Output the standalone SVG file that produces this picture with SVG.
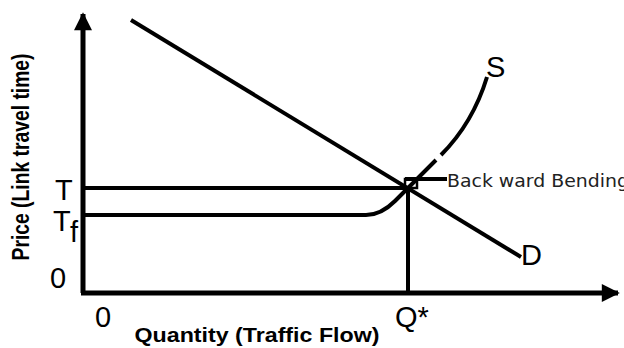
<svg xmlns="http://www.w3.org/2000/svg" width="624" height="348" viewBox="0 0 624 348">
<style>
.ln{fill:none;stroke:#000;stroke-width:4;stroke-linecap:butt}
.ax{fill:none;stroke:#000;stroke-width:5}
.lb{font-family:"Liberation Sans",Arial,sans-serif;font-size:29px;fill:#000}
.tt{font-family:"Liberation Sans",Arial,sans-serif;font-weight:bold;fill:#000}
.hw{font-family:"DejaVu Sans",sans-serif;font-size:17px;fill:#222;font-stretch:condensed}
</style>
<defs>
<marker id="ah" viewBox="0 0 10 10" refX="9" refY="5" markerWidth="4" markerHeight="3.6" orient="auto" markerUnits="strokeWidth">
<path d="M0,0 L10,5 L0,10 z" fill="#000"/>
</marker>
</defs>
<rect width="624" height="348" fill="#fff"/>
<g id="axes">
<path class="ax" d="M83,293 L83,14" marker-end="url(#ah)"/>
<path class="ax" d="M81,293 L618,293" marker-end="url(#ah)"/>
</g>
<g id="connectors">
<path class="ln" d="M83,188 L408,188"/>
<path class="ln" d="M408,187 L408,293"/>
<path class="ln" stroke-width="5" d="M131,20 L521,257"/>
<path class="ln" d="M83,215 L366,215 Q381,215 395,201 L436,160"/>
<path class="ln" d="M441,155 C458,138 476,113 487,77"/>
<path class="ln" stroke-width="3" d="M405,179 L447,179"/>
<rect x="405" y="179" width="12" height="9" fill="none" stroke="#000" stroke-width="2.5"/>
</g>
<g id="labels">
<text class="lb" x="55" y="200" font-size="27">T</text>
<text class="lb" x="53" y="231" font-size="27">T</text>
<text class="lb" x="70" y="242" font-size="19">f</text>
<text class="lb" x="50" y="288">0</text>
<text class="lb" x="95" y="327">0</text>
<text class="lb" x="395" y="327">Q*</text>
<text class="lb" x="486" y="77">S</text>
<text class="lb" x="521" y="265">D</text>
<text class="hw" x="447" y="187" textLength="182" lengthAdjust="spacingAndGlyphs">Back ward Bending</text>
<text class="tt" font-size="20" x="257" y="342" text-anchor="middle" textLength="245" lengthAdjust="spacingAndGlyphs">Quantity (Traffic Flow)</text>
<text class="tt" font-size="19" transform="translate(29,157) rotate(-90) scale(1,1.25)" text-anchor="middle" textLength="207" lengthAdjust="spacingAndGlyphs">Price (Link travel time)</text>
</g>
</svg>
